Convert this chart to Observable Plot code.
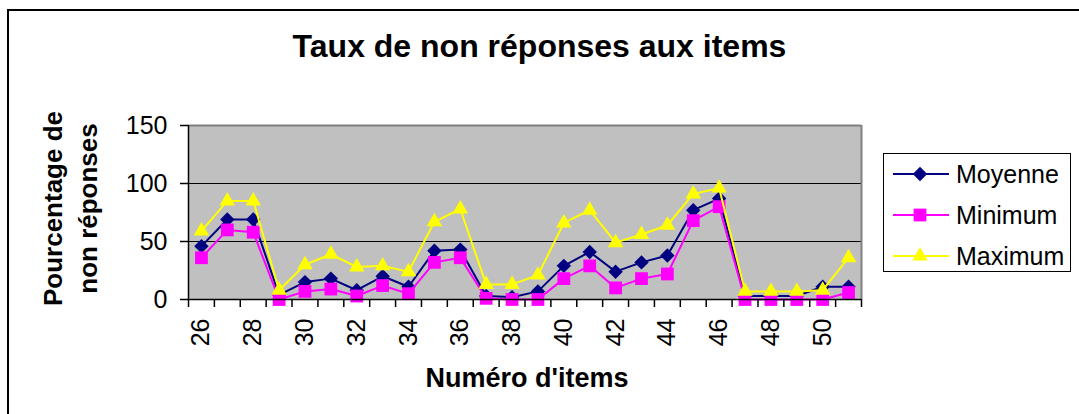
<!DOCTYPE html>
<html>
<head>
<meta charset="utf-8">
<script src="https://cdn.jsdelivr.net/npm/d3@7"></script>
<script src="https://cdn.jsdelivr.net/npm/@observablehq/plot@0.6"></script>
<style>
  html, body { margin: 0; padding: 0; background: #fff; overflow: hidden; }
  #wrap { position: relative; width: 1079px; height: 414px; overflow: hidden; font-family: "Liberation Sans", Arial, sans-serif; }
  #border { position: absolute; left: 7px; top: 9px; width: 1200px; height: 600px; border: 2px solid #000; box-sizing: border-box; }
  #title { position: absolute; left: 0; width: 1079px; top: 28px; text-align: center; font-weight: bold; font-size: 32px; line-height: 37px; }
  #legend { position: absolute; left: 883px; top: 153px; width: 188px; height: 119px; border: 1px solid #000; box-sizing: border-box; background: #fff; }
  .item { position: absolute; left: 9px; height: 30px; display: flex; align-items: center; }
  .item span { font-size: 25px; margin-left: 7px; }
  #chart { position: absolute; left: 0; top: 0; }
</style>
</head>
<body>
<div id="wrap">
  <div id="border"></div>
  <div id="chart"></div>
  <div id="title">Taux de non réponses aux items</div>
  <div id="legend"></div>
</div>
<script>
const items = [26,27,28,29,30,31,32,33,34,35,36,37,38,39,40,41,42,43,44,45,46,47,48,49,50,51];
const moyenne = [46,69,69,4,15,18,8,20,11,42,43,3,2,7,29,41,24,32,38,77,87,3,3,3,11,11];
const minimum = [36,60,58,0,7,9,3,12,5,32,36,1,0,0,18,29,10,18,22,68,80,0,0,0,0,6];
const maximum = [59,85,85,8,30,39,28,29,24,67,78,13,13,21,66,77,49,56,64,91,96,7,7,7,8,36];
const seriesNames = ["Moyenne", "Minimum", "Maximum"];
const seriesColors = ["#000080", "#ff00ff", "#ffff00"];
const seriesSymbols = ["diamond2", "square", "triangle2"];
const yTicks = [0, 50, 100, 150];
const xLabels = [26,28,30,32,34,36,38,40,42,44,46,48,50];

const seriesValues = [moyenne, minimum, maximum];
const symbolR = [6.5, 7.2, 7.4];
const boundaries = d3.range(items[0] - 0.5, items[items.length - 1] + 1, 1);

const marks = [
  Plot.frame({fill: "#c0c0c0", stroke: "none"}),
  Plot.ruleY([50, 100], {stroke: "#000", strokeWidth: 1.2}),
  Plot.ruleY([150], {stroke: "#808080", strokeWidth: 2}),
  Plot.ruleX([items[items.length - 1] + 0.5], {stroke: "#808080", strokeWidth: 2}),
];
seriesNames.forEach((s, si) => {
  const data = items.map((it, i) => ({item: it, value: seriesValues[si][i]}));
  marks.push(Plot.line(data, {x: "item", y: "value", stroke: seriesColors[si], strokeWidth: 2}));
  marks.push(Plot.dot(data, {x: "item", y: "value", fill: seriesColors[si], stroke: "none",
    symbol: seriesSymbols[si], r: symbolR[si]}));
});

const chart = Plot.plot({
  width: 1079,
  height: 414,
  marginLeft: 188,
  marginRight: 218,
  marginTop: 125,
  marginBottom: 115,
  style: {fontFamily: "'Liberation Sans', Arial, sans-serif", background: "transparent", overflow: "visible", color: "#000"},
  x: {type: "linear", domain: [items[0] - 0.5, items[items.length - 1] + 0.5]},
  y: {domain: [0, 150]},
  marks: [
    ...marks,
    Plot.ruleY([0], {stroke: "#000", strokeWidth: 1.5}),
    Plot.ruleX([items[0] - 0.5], {stroke: "#000", strokeWidth: 1.5}),
    Plot.axisX(boundaries, {tickFormat: () => "", tickSize: 8, stroke: "#000", strokeWidth: 1.5, label: null}),
    Plot.axisX(xLabels, {tickSize: 0, tickRotate: -90, tickPadding: 19, fontSize: 25, label: null, fill: "#000", tickFormat: d => String(d)}),
    Plot.axisY(yTicks, {tickSize: 8, tickPadding: 13, fontSize: 25, label: null, fill: "#000", stroke: "#000", strokeWidth: 1.5}),
    Plot.text(["Pourcentage de\nnon réponses"], {frameAnchor: "left", textAnchor: "middle", dx: -120, dy: -4, rotate: -90, fontSize: 26, fontWeight: "bold", fill: "#000", lineHeight: 1.33}),
    Plot.text(["Numéro d'items"], {frameAnchor: "bottom", dy: 87, dx: 2, fontSize: 27, fontWeight: "bold", fill: "#000"})
  ]
});
document.getElementById("chart").appendChild(chart);

// legend
const legend = document.getElementById("legend");
const d3Symbols = [d3.symbolDiamond2, d3.symbolSquare, d3.symbolTriangle2];
seriesNames.forEach((s, si) => {
  const div = document.createElement("div");
  div.className = "item";
  div.style.top = (5 + si * 41) + "px";
  const sym = d3.symbol().type(d3Symbols[si]).size(Math.PI * symbolR[si] * symbolR[si])();
  div.innerHTML = `<svg width="56" height="30"><line x1="0" x2="56" y1="15" y2="15" stroke="${seriesColors[si]}" stroke-width="2"/><path d="${sym}" transform="translate(27,15)" fill="${seriesColors[si]}"/></svg><span>${s}</span>`;
  legend.appendChild(div);
});
</script>
</body>
</html>
